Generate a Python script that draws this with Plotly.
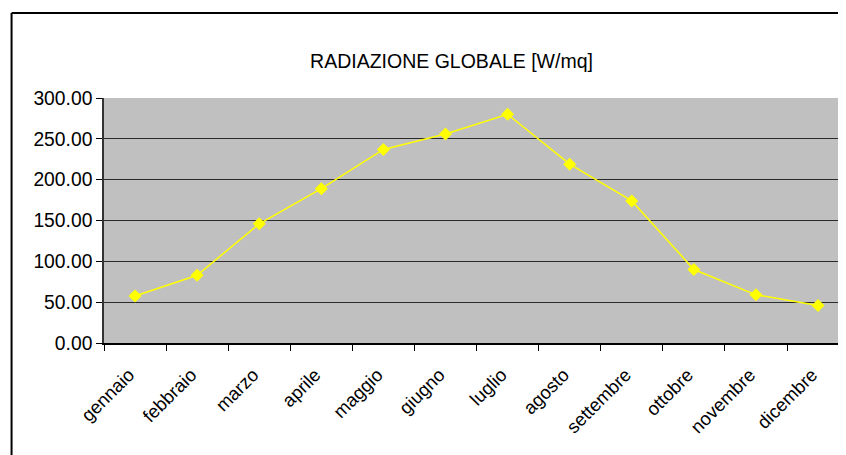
import plotly.graph_objects as go

months = ["gennaio", "febbraio", "marzo", "aprile", "maggio", "giugno",
          "luglio", "agosto", "settembre", "ottobre", "novembre", "dicembre"]
radiazione = [57.5, 83.0, 146.0, 189.0, 237.0, 256.0, 280.0, 219.0, 174.0, 90.0, 59.0, 46.0]
y_ticks = [0, 50, 100, 150, 200, 250, 300]
title_text = "RADIAZIONE GLOBALE [W/mq]"

FONT = "Liberation Sans, Arial, sans-serif"

# page body has an 8px margin: work in figure coords = reference coords - 8
OFF = 8
W, H = 846 - OFF, 455 - OFF
L = 103.5 - OFF
T = 98 - OFF
B = H - (343 - OFF)
pw = W - L
ph = H - T - B

fig = go.Figure()
fig.add_trace(go.Scatter(
    x=months, y=radiazione, mode="lines+markers",
    line=dict(color="#FFFF00", width=1.5),
    marker=dict(symbol="diamond", size=10, color="#FFFF00"),
    showlegend=False, hoverinfo="skip",
))

fig.update_layout(
    width=W, height=H,
    margin=dict(l=L, r=0, t=T, b=B),
    paper_bgcolor="white",
    plot_bgcolor="#C0C0C0",
    font=dict(family=FONT, size=19, color="black"),
    title=dict(text=title_text, x=(451.5 - OFF) / W, xanchor="center", xref="container",
               y=1 - (61 - OFF) / H, yanchor="middle", yref="container",
               font=dict(family=FONT, size=19.5, color="black")),
    xaxis=dict(
        type="category", range=[-0.5, 11.45],
        tickson="boundaries", ticks="outside", ticklen=6, tickcolor="black",
        tickangle=-45, showgrid=False, showline=True, linecolor="black",
        linewidth=1.5, tickfont=dict(family=FONT, size=18.5), fixedrange=True,
        ticklabelstandoff=12, ticklabelshift=-6,
    ),
    yaxis=dict(
        range=[0, 300], tickvals=y_ticks, tickformat=".2f",
        ticks="outside", ticklen=6, tickcolor="black",
        showgrid=True, gridcolor="#2a2a2a", gridwidth=1,
        showline=True, linecolor="#333333", linewidth=1.5, zeroline=False,
        tickfont=dict(family=FONT, size=19.3), fixedrange=True,
    ),
    shapes=[dict(
        type="line", xref="paper", yref="paper",
        x0=(11 - 103.5) / pw, x1=(11 - 103.5) / pw,
        y0=-0.6, y1=1 + (98 - 13) / ph,
        line=dict(color="black", width=2),
    ), dict(
        type="line", xref="paper", yref="paper",
        x0=(11 - 103.5) / pw, x1=1.05,
        y0=1 + (98 - 13) / ph, y1=1 + (98 - 13) / ph,
        line=dict(color="black", width=2),
    )],
)

fig.write_html("out.html")
